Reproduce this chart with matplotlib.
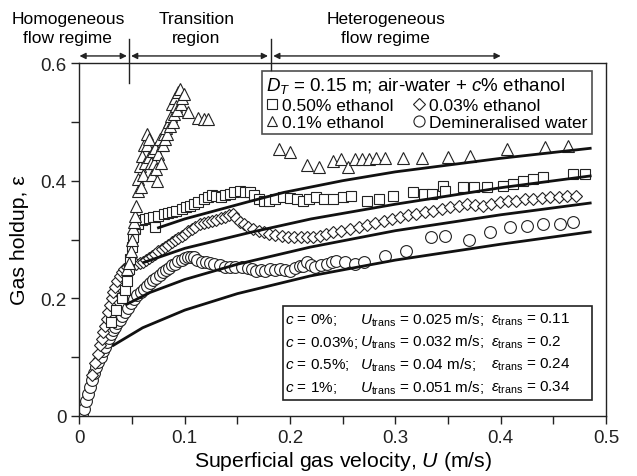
import matplotlib
matplotlib.use("Agg")
import matplotlib.pyplot as plt
from matplotlib.lines import Line2D
from matplotlib.patches import Rectangle

plt.rcParams["font.family"] = ["Liberation Sans", "DejaVu Sans"]
plt.rcParams["mathtext.fontset"] = "custom"
plt.rcParams["mathtext.rm"] = "Liberation Sans"
plt.rcParams["mathtext.it"] = "Liberation Sans:italic"

#
# Data
#
# 0.1% ethanol (triangles)
tri_u = [0.045, 0.047, 0.049, 0.050, 0.051, 0.052, 0.053, 0.054, 0.056, 0.056,
         0.057, 0.058, 0.059, 0.060, 0.061, 0.062, 0.064, 0.064, 0.066, 0.066,
         0.068, 0.069, 0.070, 0.071, 0.072, 0.073, 0.074, 0.075, 0.076, 0.077,
         0.078, 0.079, 0.080, 0.081, 0.082, 0.083, 0.085, 0.086, 0.087, 0.088,
         0.089, 0.090, 0.091, 0.092, 0.093, 0.094, 0.095, 0.096, 0.097, 0.099,
         0.103, 0.113, 0.118, 0.122,
         0.189, 0.200, 0.216, 0.227, 0.241, 0.248, 0.255, 0.262, 0.268, 0.275,
         0.282, 0.290, 0.307, 0.325, 0.350, 0.371, 0.406, 0.442, 0.464]
tri_e = [0.250, 0.260, 0.280, 0.300, 0.320, 0.330, 0.340, 0.357, 0.383, 0.403,
         0.425, 0.390, 0.442, 0.410, 0.460, 0.430, 0.479, 0.460, 0.440, 0.470,
         0.430, 0.410, 0.450, 0.430, 0.455, 0.420, 0.400, 0.445, 0.471, 0.430,
         0.460, 0.460, 0.479, 0.470, 0.490, 0.479, 0.500, 0.493, 0.510, 0.530,
         0.500, 0.513, 0.540, 0.527, 0.520, 0.550, 0.555, 0.530, 0.540, 0.547,
         0.517, 0.506, 0.505, 0.504,
         0.454, 0.448, 0.427, 0.424, 0.434, 0.437, 0.423, 0.436, 0.437, 0.437,
         0.438, 0.438, 0.438, 0.438, 0.440, 0.442, 0.454, 0.457, 0.459]

# 0.50% ethanol (squares)
sq_u = [0.030, 0.035, 0.040, 0.043, 0.045, 0.047, 0.048, 0.0495, 0.051, 0.053,
        0.056, 0.059, 0.062, 0.066, 0.070, 0.072, 0.075, 0.080, 0.084, 0.088,
        0.092, 0.097, 0.101, 0.105, 0.109, 0.113, 0.118, 0.122, 0.126, 0.130,
        0.134, 0.138, 0.143, 0.147, 0.152, 0.157, 0.162, 0.166, 0.170, 0.175,
        0.180, 0.186, 0.193, 0.200, 0.207, 0.212, 0.218, 0.225, 0.232, 0.241,
        0.250, 0.258, 0.273, 0.284, 0.298, 0.317, 0.327, 0.335, 0.345, 0.347,
        0.364, 0.375, 0.387, 0.402, 0.412, 0.421, 0.431, 0.440, 0.469, 0.480]
sq_e = [0.160, 0.180, 0.200, 0.215, 0.230, 0.250, 0.267, 0.287, 0.304, 0.318,
        0.326, 0.333, 0.335, 0.336, 0.338, 0.321, 0.340, 0.343, 0.345, 0.346,
        0.349, 0.352, 0.355, 0.357, 0.360, 0.364, 0.368, 0.372, 0.375, 0.374,
        0.372, 0.376, 0.377, 0.380, 0.383, 0.381, 0.380, 0.375, 0.369, 0.366,
        0.365, 0.368, 0.372, 0.370, 0.369, 0.366, 0.369, 0.372, 0.368, 0.369,
        0.372, 0.374, 0.366, 0.369, 0.374, 0.380, 0.377, 0.377, 0.391, 0.383,
        0.389, 0.389, 0.389, 0.391, 0.394, 0.400, 0.403, 0.406, 0.411, 0.411]

# 0.03% ethanol (diamonds)
dia_u = [0.012, 0.015, 0.0175, 0.0195, 0.021, 0.0226, 0.024, 0.026, 0.0275, 0.029,
         0.0305, 0.032, 0.034, 0.036, 0.038, 0.040, 0.042, 0.045, 0.048, 0.051,
         0.054, 0.057, 0.060, 0.063, 0.066, 0.069, 0.072, 0.075, 0.078, 0.081,
         0.084, 0.0875, 0.091, 0.094, 0.097, 0.100, 0.1035, 0.107, 0.110, 0.114,
         0.118, 0.122, 0.126, 0.130, 0.134, 0.138, 0.142, 0.146, 0.149, 0.152,
         0.156, 0.160, 0.165, 0.170, 0.175, 0.180, 0.186, 0.192, 0.198, 0.204,
         0.210, 0.216, 0.222, 0.228, 0.234, 0.241, 0.248, 0.257, 0.265, 0.273,
         0.281, 0.289, 0.297, 0.304, 0.312, 0.320, 0.328, 0.336, 0.344, 0.352,
         0.360, 0.368, 0.376, 0.383, 0.391, 0.399, 0.407, 0.415, 0.423, 0.431,
         0.439, 0.447, 0.455, 0.463, 0.472]
dia_e = [0.070, 0.090, 0.105, 0.120, 0.131, 0.142, 0.153, 0.165, 0.176, 0.188,
         0.200, 0.210, 0.220, 0.230, 0.238, 0.244, 0.250, 0.253, 0.255, 0.256,
         0.258, 0.260, 0.262, 0.265, 0.268, 0.272, 0.276, 0.280, 0.284, 0.288,
         0.291, 0.295, 0.299, 0.303, 0.306, 0.310, 0.314, 0.318, 0.322, 0.326,
         0.328, 0.330, 0.332, 0.334, 0.336, 0.339, 0.341, 0.343, 0.336, 0.330,
         0.326, 0.322, 0.318, 0.315, 0.312, 0.310, 0.308, 0.306, 0.305, 0.304,
         0.304, 0.304, 0.305, 0.306, 0.309, 0.312, 0.315, 0.318, 0.321, 0.325,
         0.328, 0.332, 0.335, 0.338, 0.342, 0.344, 0.347, 0.349, 0.352, 0.355,
         0.357, 0.360, 0.358, 0.357, 0.360, 0.363, 0.365, 0.366, 0.368, 0.369,
         0.371, 0.372, 0.373, 0.374, 0.374]

# Demineralised water (circles)
cir_u = [0.002, 0.004, 0.006, 0.008, 0.010, 0.012, 0.014, 0.016, 0.018, 0.020,
         0.022, 0.024, 0.026, 0.028, 0.030, 0.032, 0.034, 0.036, 0.038, 0.040,
         0.043, 0.046, 0.049, 0.052, 0.055, 0.058, 0.061, 0.064, 0.067, 0.070,
         0.073, 0.076, 0.079, 0.082, 0.085, 0.088, 0.091, 0.094, 0.097, 0.100,
         0.103, 0.106, 0.109, 0.112, 0.116, 0.120, 0.124, 0.128, 0.133, 0.138,
         0.143, 0.148, 0.154, 0.160, 0.164, 0.168, 0.172, 0.176, 0.181, 0.186,
         0.190, 0.195, 0.200, 0.205, 0.209, 0.2125, 0.216, 0.220, 0.224, 0.229,
         0.235, 0.240, 0.244, 0.252, 0.262, 0.270, 0.290, 0.310, 0.334, 0.347,
         0.370, 0.390, 0.409, 0.425, 0.440, 0.456, 0.469]
cir_e = [0.003, 0.012, 0.025, 0.038, 0.050, 0.062, 0.073, 0.083, 0.092, 0.101,
         0.110, 0.118, 0.125, 0.132, 0.139, 0.146, 0.152, 0.158, 0.164, 0.170,
         0.177, 0.184, 0.192, 0.199, 0.205, 0.211, 0.216, 0.221, 0.226, 0.231,
         0.235, 0.239, 0.244, 0.248, 0.252, 0.256, 0.259, 0.263, 0.266, 0.268,
         0.270, 0.271, 0.270, 0.266, 0.262, 0.261, 0.260, 0.258, 0.256, 0.254,
         0.253, 0.253, 0.253, 0.251, 0.250, 0.247, 0.249, 0.247, 0.250, 0.249,
         0.250, 0.248, 0.247, 0.251, 0.255, 0.255, 0.261, 0.257, 0.253, 0.256,
         0.258, 0.262, 0.264, 0.262, 0.258, 0.262, 0.272, 0.280, 0.304, 0.306,
         0.300, 0.312, 0.321, 0.323, 0.326, 0.326, 0.329]

# Correlation curves (solid lines)
fit0_u = [0.032, 0.060, 0.100, 0.150, 0.219, 0.300, 0.400, 0.485]
fit0_e = [0.120, 0.150, 0.180, 0.208, 0.238, 0.265, 0.292, 0.313]
fit1_u = [0.045, 0.067, 0.100, 0.150, 0.219, 0.300, 0.400, 0.485]
fit1_e = [0.190, 0.210, 0.232, 0.258, 0.287, 0.315, 0.342, 0.362]
fit2_u = [0.061, 0.100, 0.162, 0.220, 0.300, 0.400, 0.485]
fit2_e = [0.261, 0.285, 0.312, 0.335, 0.360, 0.388, 0.408]
fit3_u = [0.075, 0.100, 0.160, 0.194, 0.250, 0.300, 0.400, 0.485]
fit3_e = [0.320, 0.335, 0.364, 0.380, 0.400, 0.415, 0.438, 0.455]

legend_labels = ["0.50% ethanol", "0.1% ethanol", "0.03% ethanol", "Demineralised water"]
box_rows = [
    ("$c$ = 0%;", "$U_{\\rm trans}$ = 0.025 m/s;", "$\\epsilon_{\\rm trans}$ = 0.11"),
    ("$c$ = 0.03%;", "$U_{\\rm trans}$ = 0.032 m/s;", "$\\epsilon_{\\rm trans}$ = 0.2"),
    ("$c$ = 0.5%;", "$U_{\\rm trans}$ = 0.04 m/s;", "$\\epsilon_{\\rm trans}$ = 0.24"),
    ("$c$ = 1%;", "$U_{\\rm trans}$ = 0.051 m/s;", "$\\epsilon_{\\rm trans}$ = 0.34"),
]

fig = plt.figure(figsize=(6.37, 4.77), dpi=100)
ax = fig.add_axes([0.1248, 0.1258, 0.8265, 0.740])

mk = dict(ls="none", mfc="white", mec="#222222", mew=0.8, ms=8.5)
ax.plot(cir_u, cir_e, marker="o", **mk)
ax.plot(dia_u, dia_e, marker="D", **dict(mk, ms=6.5))
ax.plot(sq_u, sq_e, marker="s", **dict(mk, ms=7.5))
ax.plot(tri_u, tri_e, marker="^", **dict(mk, ms=8))

for fu, fe in [(fit0_u, fit0_e), (fit1_u, fit1_e), (fit2_u, fit2_e), (fit3_u, fit3_e)]:
    ax.plot(fu, fe, color="#111111", lw=2.0, zorder=3)

ax.set_xlim(0, 0.5)
ax.set_ylim(0, 0.6)
ax.set_xticks([0, 0.1, 0.2, 0.3, 0.4, 0.5])
ax.set_xticklabels(["0", "0.1", "0.2", "0.3", "0.4", "0.5"])
ax.set_xticks([0.05, 0.15, 0.25, 0.35, 0.45], minor=True)
ax.set_yticks([0, 0.2, 0.4, 0.6])
ax.set_yticklabels(["0", "0.2", "0.4", "0.6"])
ax.set_yticks([0.1, 0.3, 0.5], minor=True)
ax.tick_params(which="both", direction="out", length=6, width=1, labelsize=13.5, colors="#222222")
for s in ax.spines.values():
    s.set_linewidth(1.0)
    s.set_color("#222222")

ax.set_xlabel("Superficial gas velocity, $U$ (m/s)", fontsize=15.3, labelpad=2)
ax.set_ylabel("Gas holdup, \u03b5", fontsize=15.3, labelpad=8)

# legend box
handles = [Line2D([], [], marker=m, **dict(mk, ms=s)) for m, s in
           [("s", 7), ("^", 7.5), ("D", 6), ("o", 8)]]
leg = ax.legend(handles, legend_labels, ncol=2, loc="upper left",
                bbox_to_anchor=(0.3466, 0.811, 0.627, 0.166), mode="expand",
                title="$D_T$ = 0.15 m; air-water + $c$% ethanol",
                fontsize=12.5, title_fontsize=13.5, frameon=True, fancybox=False,
                edgecolor="#222222", handlelength=0.6, handletextpad=0.3,
                borderpad=0.25, labelspacing=0.12, columnspacing=1.0,
                borderaxespad=0, alignment="left")
leg.get_frame().set_linewidth(1.2)
leg.set_zorder(10)

# transition box
ax.add_patch(Rectangle((0.386, 0.045), 0.5874, 0.266, transform=ax.transAxes,
                       fill=True, fc="white", ec="#222222", lw=1.2, zorder=9))
row_y = [0.275, 0.2105, 0.147, 0.082]
for (c_txt, u_txt, e_txt), yy in zip(box_rows, row_y):
    ax.text(0.391, yy, c_txt, transform=ax.transAxes, fontsize=11, va="center", zorder=11)
    ax.text(0.533, yy, u_txt, transform=ax.transAxes, fontsize=11, va="center", zorder=11)
    ax.text(0.781, yy, e_txt, transform=ax.transAxes, fontsize=11, va="center", zorder=11)

# regime markers above the axes
arrow = dict(arrowstyle="<|-|>", color="#222222", lw=1.0, mutation_scale=9, shrinkA=0, shrinkB=0)
for x0, x1 in [(0.0, 0.045), (0.049, 0.179), (0.184, 0.40)]:
    ax.annotate("", xy=(x0, 0.612), xytext=(x1, 0.612), arrowprops=arrow, annotation_clip=False)
ax.plot([0.0473, 0.0473], [0.566, 0.641], color="#222222", lw=1.0, clip_on=False)
ax.plot([0.182, 0.182], [0.586, 0.641], color="#222222", lw=1.0, clip_on=False, zorder=1)
for xc, txt in [(-0.011, "Homogeneous\nflow regime"), (0.111, "Transition\nregion"),
                (0.291, "Heterogeneous\nflow regime")]:
    ax.text(xc, 0.6595, txt, ha="center", va="center", fontsize=12.5,
            linespacing=1.4, clip_on=False)

fig.savefig("out.png", dpi=100)
